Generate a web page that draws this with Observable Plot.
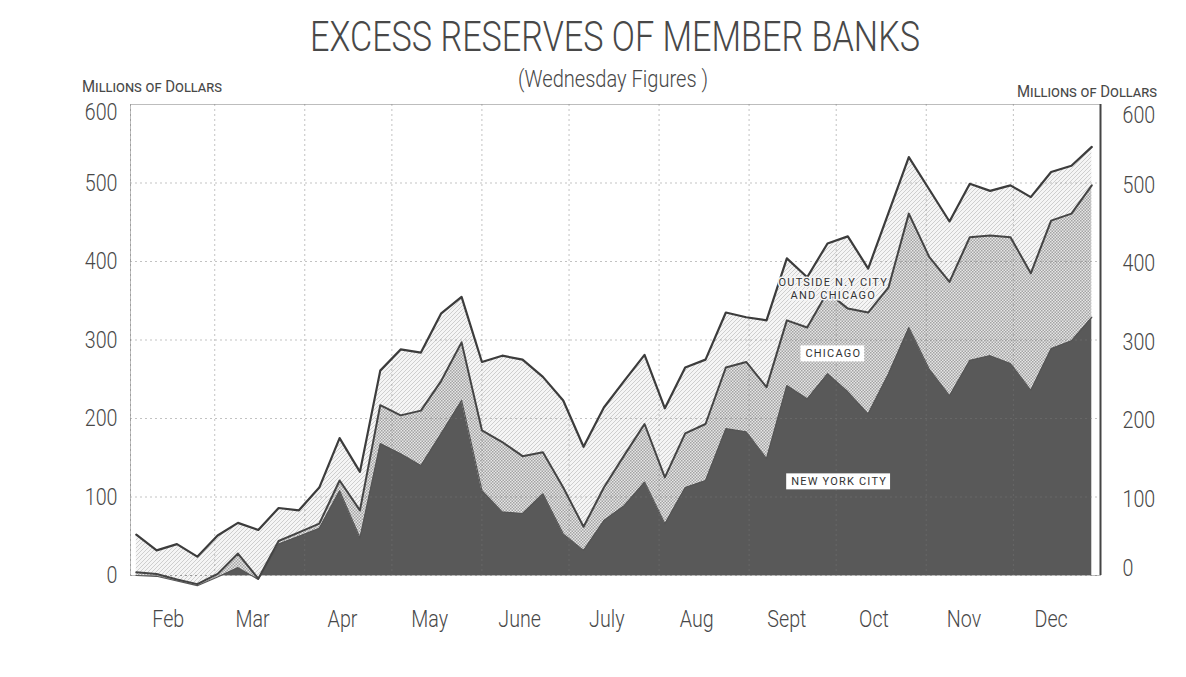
<!DOCTYPE html>
<html><head><meta charset="utf-8">
<script src="https://cdn.jsdelivr.net/npm/d3@7"></script>
<script src="https://cdn.jsdelivr.net/npm/@observablehq/plot@0.6"></script>
<style>
html,body{margin:0;padding:0;background:#fff;}
#page{position:relative;width:1186px;height:677px;overflow:hidden;font-family:Roboto,"DejaVu Sans",sans-serif;color:#484848;}
#head{position:relative;height:76px;}
.t{position:absolute;white-space:nowrap;font-weight:300;line-height:1;transform-origin:0 0;}
.sc{font-variant:small-caps;font-weight:400;}
</style></head><body>
<div id="page">
<div id="head">
<div class="t" id="title">EXCESS RESERVES OF MEMBER BANKS</div>
<div class="t" id="sub">(Wednesday Figures )</div>
<div class="t sc" id="unitL">Millions of Dollars</div>
<div class="t sc" id="unitR">Millions of Dollars</div>
</div>
<div id="chart"></div>
</div>
<script>
// Wednesday dates (1932)
const dates = [
 "1932-02-03","1932-02-10","1932-02-17","1932-02-24",
 "1932-03-02","1932-03-09","1932-03-16","1932-03-23","1932-03-30",
 "1932-04-06","1932-04-13","1932-04-20","1932-04-27",
 "1932-05-04","1932-05-11","1932-05-18","1932-05-25",
 "1932-06-01","1932-06-08","1932-06-15","1932-06-22","1932-06-29",
 "1932-07-06","1932-07-13","1932-07-20","1932-07-27",
 "1932-08-03","1932-08-10","1932-08-17","1932-08-24","1932-08-31",
 "1932-09-07","1932-09-14","1932-09-21","1932-09-28",
 "1932-10-05","1932-10-12","1932-10-19","1932-10-26",
 "1932-11-02","1932-11-09","1932-11-16","1932-11-23","1932-11-30",
 "1932-12-07","1932-12-14","1932-12-21","1932-12-28"
];
// Excess reserves, millions of dollars
const newYorkCity = [0,-1,-7,-13, -2,10,-5,40,50, 60,108,48,168, 155,140,181,223,
 108,81,79,104,53, 32,70,89,119, 66,112,121,187,183, 149,242,225,257,
 234,206,257,316, 263,229,274,280,270, 236,289,299,329];
const chicago = [4,3,2,2, 4,18,1,4,5, 6,13,35,49, 49,70,67,74,
 77,89,73,53,59, 30,42,64,74, 59,69,72,78,89, 91,83,91,104,
 106,129,110,145, 143,145,157,153,161, 149,163,162,168];
const outsideNYandChicago = [48,30,45,35, 49,39,62,42,28, 46,54,49,44, 84,74,86,58,
 87,110,123,96,111, 102,102,95,88, 88,84,82,70,57, 85,79,64,62,
 92,56,95,72, 86,77,68,57,66, 97,62,61,49];

const yTicks = [0,100,200,300,400,500,600];
const monthLabels = ["Feb","Mar","Apr","May","June","July","Aug","Sept","Oct","Nov","Dec"];
const monthLabelDates = ["1932-02-14","1932-03-14","1932-04-14","1932-05-14","1932-06-14","1932-07-14",
 "1932-08-14","1932-09-14","1932-10-14","1932-11-14","1932-12-14"];
const seriesLabels = ["NEW YORK CITY","CHICAGO","OUTSIDE N.Y CITY\nAND CHICAGO"];
const seriesLabelDates = ["1932-10-02","1932-09-30","1932-09-30"];
const seriesLabelValues = [120, 283, 366];

const rows = dates.map((d, i) => {
  const n = newYorkCity[i];
  const c = n + chicago[i];
  return {date: new Date(d), nyc: n, chiTop: c, total: c + outsideNYandChicago[i]};
});
const labelRows = seriesLabels.map((t, i) => ({text: t, date: new Date(seriesLabelDates[i]), value: seriesLabelValues[i]}));
const monthTicks = monthLabelDates.map(d => new Date(d));
const labelByTime = new Map(monthTicks.map((d, i) => [+d, monthLabels[i]]));
const x0 = new Date("1932-02-01"), x1 = new Date("1932-12-31");
const monthStarts = d3.utcMonth.range(x0, x1);

const tickFont = {tickSize: 0, fontSize: 24, label: null};
const svg = Plot.plot({
  width: 1186, height: 601,
  marginTop: 28, marginBottom: 102, marginLeft: 130, marginRight: 86,
  style: {fontFamily: "Roboto, 'DejaVu Sans', sans-serif", fontWeight: 300, color: "#484848", background: "transparent", overflow: "visible"},
  x: {type: "utc", domain: [x0, x1], axis: null},
  y: {domain: [0, 600], axis: null},
  marks: [
    Plot.frame({stroke: "#bdbdbd", strokeWidth: 1}),
    Plot.areaY(rows, {x: "date", y1: 0, y2: "nyc", fill: "#595959"}),
    Plot.areaY(rows, {x: "date", y1: "nyc", y2: "chiTop", fill: "url(#chi)"}),
    Plot.areaY(rows, {x: "date", y1: "chiTop", y2: "total", fill: "url(#out)"}),
    Plot.gridX(monthStarts, {stroke: "#777", strokeOpacity: 0.45, strokeDasharray: "2,3"}),
    Plot.gridY([100,200,300,400,500], {stroke: "#777", strokeOpacity: 0.45, strokeDasharray: "2,3"}),
    Plot.ruleY([0], {stroke: "#999", strokeDasharray: "2,3"}),
    Plot.lineY(rows, {x: "date", y: "nyc", stroke: "#555", strokeWidth: 1.2}),
    Plot.lineY(rows, {x: "date", y: "chiTop", stroke: "#444", strokeWidth: 2}),
    Plot.lineY(rows, {x: "date", y: "total", stroke: "#3c3c3c", strokeWidth: 2.2}),
    Plot.ruleX([x1], {stroke: "#444", strokeWidth: 2}),
    Plot.axisY(yTicks.slice(0, 6), {anchor: "left", tickPadding: 13, ...tickFont}),
    Plot.axisY(yTicks.slice(6), {anchor: "left", tickPadding: 13, dy: 8, ...tickFont}),
    Plot.axisY(yTicks.slice(1, 6), {anchor: "right", tickPadding: 22, dy: 2, ...tickFont}),
    Plot.axisY(yTicks.slice(6), {anchor: "right", tickPadding: 22, dy: 11, ...tickFont}),
    Plot.axisY(yTicks.slice(0, 1), {anchor: "right", tickPadding: 22, dy: -7, ...tickFont}),
    Plot.axisX(monthTicks, {anchor: "bottom", tickPadding: 34, tickFormat: d => labelByTime.get(+d), ...tickFont}),
    Plot.text(labelRows, {x: "date", y: "value", text: "text", fontSize: 11, fill: "#333", lineHeight: 1.15, fontWeight: 400})
  ]
});
document.getElementById("chart").appendChild(svg);

// patterns
const defs = d3.select(svg).insert("defs", ":first-child");
const chi = defs.append("pattern").attr("id", "chi").attr("patternUnits", "userSpaceOnUse").attr("width", 3).attr("height", 3);
chi.append("rect").attr("width", 3).attr("height", 3).attr("fill", "#e6e6e6");
chi.append("rect").attr("width", 1.5).attr("height", 1.5).attr("fill", "#a3a3a3");
chi.append("rect").attr("x", 1.5).attr("y", 1.5).attr("width", 1.5).attr("height", 1.5).attr("fill", "#a3a3a3");
const out = defs.append("pattern").attr("id", "out").attr("patternUnits", "userSpaceOnUse").attr("width", 4).attr("height", 4);
out.append("rect").attr("width", 4).attr("height", 4).attr("fill", "#f5f5f5");
out.append("path").attr("d", "M-1,1L1,-1M0,4L4,0M3,5L5,3").attr("stroke", "#c9c9c9").attr("stroke-width", 0.9);

// condensed lettering for axis labels; boxes for series labels
const labelSet = new Map(seriesLabels.map((t, i) => [t.replace("\n", ""), i]));
d3.select(svg).selectAll("text").each(function() {
  const k = labelSet.get(this.textContent);
  if (k !== undefined) {
    this.setAttribute("letter-spacing", "1.2");
    if (k === 2) {
      this.setAttribute("stroke", "#f6f6f6"); this.setAttribute("stroke-width", 3); this.setAttribute("paint-order", "stroke");
      return;
    }
    const b = this.getBBox();
    const r = document.createElementNS("http://www.w3.org/2000/svg", "rect");
    r.setAttribute("x", b.x - 5); r.setAttribute("y", b.y - 2);
    r.setAttribute("width", b.width + 8); r.setAttribute("height", b.height + 3);
    r.setAttribute("fill", "#fff");
    r.setAttribute("transform", this.getAttribute("transform") || "");
    this.parentNode.insertBefore(r, this);
    return;
  }
  const t = this.getAttribute("transform");
  if (t) this.setAttribute("transform", t + " scale(0.82,1)");
});

// header text placement
function place(id, left, capTop, fs, width) {
  const el = document.getElementById(id);
  el.style.fontSize = fs + "px";
  el.style.left = left + "px";
  el.style.top = (capTop - 0.131 * fs) + "px";
  const w = el.getBoundingClientRect().width;
  el.style.transform = "scaleX(" + (width / w) + ")";
}
place("title", 310, 22, 42, 610);
place("sub", 518, 71, 23, 190);
place("unitL", 82, 81, 16, 140);
place("unitR", 1017, 86, 16, 140);
</script>
</body></html>
